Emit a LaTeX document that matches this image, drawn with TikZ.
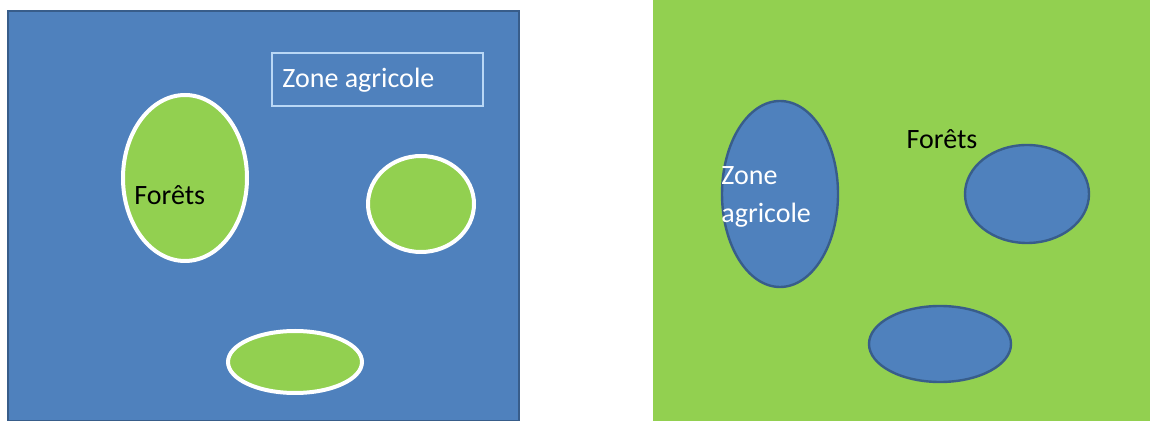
\documentclass[tikz,border=0pt]{standalone}
\usepackage{fontspec}
\setmainfont{Carlito}
\usetikzlibrary{shapes.geometric}
\definecolor{zoneblue}{HTML}{4F81BD}
\definecolor{zoneedge}{HTML}{385D8A}
\definecolor{forestgreen}{HTML}{92D050}
\definecolor{boxedge}{HTML}{B9D7F5}
\tikzset{
  panel/.style={fill=#1, inner sep=0pt},
  forest/.style={ellipse, draw=white, line width=2pt, fill=forestgreen, inner sep=0pt},
  field/.style={ellipse, draw=zoneedge, line width=1.2pt, fill=zoneblue, inner sep=0pt},
  label/.style={font=\fontsize{14}{17}\selectfont, inner sep=0pt}
}

\begin{document}
\begin{tikzpicture}[x=0.5pt, y=-0.5pt]
\useasboundingbox (0,0) rectangle (1150,421);

% left panel: forests in farmland
\draw [panel=zoneblue, draw=zoneedge, line width=1pt] (8,11) rectangle (519,421);
\node [draw=boxedge, line width=0.8pt, minimum width=105.5pt, minimum height=26.5pt,
       inner sep=0pt] (legend) at (377.5,79.5) {};
\node [label, text=white, anchor=west] (legend-text) at (282,80) {Zone agricole};

\node [forest, minimum width=62pt, minimum height=83pt] (forest-1) at (185,178) {};
\node [forest, minimum width=53pt, minimum height=48pt] (forest-2) at (421,204) {};
\node [forest, minimum width=67pt, minimum height=31pt] (forest-3) at (295,362) {};
\node [label, text=black, anchor=west] (forest-text) at (134,195) {Forêts};

% right panel: farmland in forest
\fill [panel=forestgreen] (653,0) rectangle (1150,421);
\node [field, minimum width=58pt, minimum height=93pt] (field-1) at (780,194) {};
\node [field, minimum width=62pt, minimum height=49pt] (field-2) at (1027,194) {};
\node [field, minimum width=71pt, minimum height=38pt] (field-3) at (940,344) {};
\node [label, text=white, anchor=west, align=left] (field-text) at (721,197)
  {Zone\\[2pt]agricole};
\node [label, text=black] (right-text) at (942,139) {Forêts};

\end{tikzpicture}
\end{document}
